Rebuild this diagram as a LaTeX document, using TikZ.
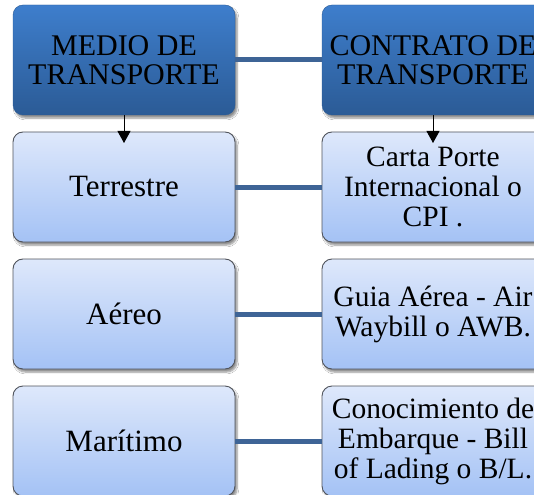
\documentclass[tikz,border=0pt]{standalone}
\usepackage{fontspec}
\setmainfont{Liberation Serif}
\usetikzlibrary{arrows.meta,shadows.blur}
\definecolor{hdtop}{RGB}{62,126,204}
\definecolor{hdbot}{RGB}{43,91,150}
\definecolor{lbtop}{RGB}{222,232,251}
\definecolor{lbbot}{RGB}{164,194,245}
\definecolor{connc}{RGB}{62,100,150}
\definecolor{lbdraw}{RGB}{80,84,92}
\begin{document}
\begin{tikzpicture}[x=1pt,y=-1pt,
  boxbase/.style={rounded corners=10pt, minimum width=222pt, minimum height=110pt,
    align=center, inner sep=2pt, font=\fontsize{31}{28.5}\selectfont,
    blur shadow={shadow xshift=2pt, shadow yshift=-3pt, shadow blur steps=6, shadow opacity=45}},
  headbox/.style={boxbase, draw=hdbot, top color=hdtop, bottom color=hdbot, font=\fontsize{30}{28.5}\selectfont},
  lbox/.style={boxbase, draw=lbdraw, line width=0.9pt, top color=lbtop, bottom color=lbbot},
  rtext/.style={font=\fontsize{29.5}{30}\selectfont},
  conn/.style={draw=connc, line width=5pt},
  downarrow/.style={draw=black, line width=0.9pt, -{Triangle[width=13pt,length=12pt]}}
]
\useasboundingbox (0,0) rectangle (534,494);
\fill[white] (0,0) rectangle (534,494);
% head boxes
\node[headbox] (m) at (124,60) {MEDIO DE\\TRANSPORTE};
\node[headbox] (c) at (433,60) {CONTRATO DE\\TRANSPORTE};
% left column
\node[lbox] (t) at (124,187) {Terrestre};
\node[lbox] (a) at (124,314) {Aéreo};
\node[lbox] (mar) at (124,441) {Marítimo};
% right column
\node[lbox, rtext] (cp) at (433,187) {Carta Porte\\Internacional o\\CPI .};
\node[lbox, rtext] (g) at (433,314) {Guia Aérea - Air\\Waybill o AWB.};
\node[lbox, rtext] (cb) at (433,441) {Conocimiento de\\Embarque - Bill\\of Lading o B/L.};
% connectors
\draw[conn] (m) -- (c);
\draw[conn] (t) -- (cp);
\draw[conn] (a) -- (g);
\draw[conn] (mar) -- (cb);
% arrows
\coordinate (tl) at (124,143);
\coordinate (tr) at (433,143);
\draw[downarrow] (m.south) -- (tl);
\draw[downarrow] (c.south) -- (tr);
\end{tikzpicture}
\end{document}
